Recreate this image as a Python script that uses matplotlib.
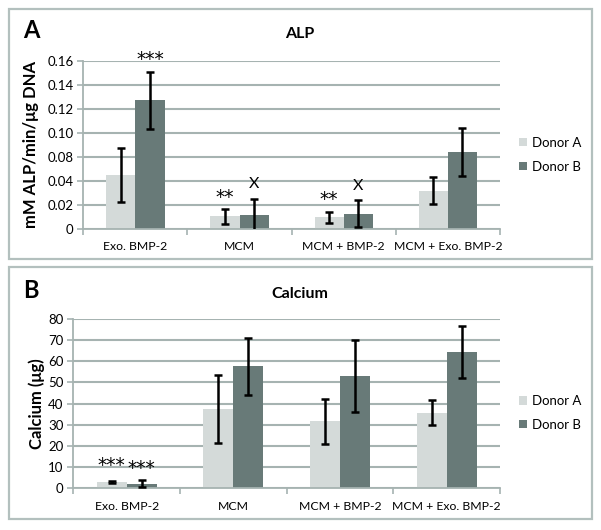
import matplotlib
matplotlib.use("Agg")
import matplotlib.pyplot as plt
from matplotlib.patches import Rectangle
from matplotlib.transforms import offset_copy
import numpy as np

plt.rcParams['font.family'] = ['Lato', 'DejaVu Sans']

# ---------------- data ----------------
categories = ['Exo. BMP-2', 'MCM', 'MCM + BMP-2', 'MCM + Exo. BMP-2']
series_names = ['Donor A', 'Donor B']

# Panel A (ALP) — values read against the evenly spaced gridlines (0.02 per gridline)
alp_tick_labels = ['0', '0.02', '0.04', '0.08', '0.10', '0.12', '0.14', '0.16']
alp_a = [0.0447, 0.0105, 0.0097, 0.0319]
alp_a_err = [0.0226, 0.0060, 0.0046, 0.0112]
alp_b = [0.1071, 0.0117, 0.0128, 0.0644]
alp_b_err = [0.0234, 0.0135, 0.0114, 0.0201]
alp_marks = [(0, 1, '***', 0.1440), (1, 0, '**', 0.0290), (1, 1, 'X', 0.0392),
             (2, 0, '**', 0.0275), (2, 1, 'X', 0.0372)]

# Panel B (Calcium)
calcium_ticks = [0, 10, 20, 30, 40, 50, 60, 70, 80]
calcium_a = [2.9, 37.6, 31.6, 35.8]
calcium_a_err = [0.4, 16.0, 10.5, 6.0]
calcium_b = [2.2, 57.6, 53.2, 64.3]
calcium_b_err = [1.5, 13.6, 17.0, 12.2]
calcium_marks = [(0, 0, '***', 12.6), (0, 1, '***', 11.0)]

# ---------------- style ----------------
COL_A = '#d4dad9'
COL_B = '#687a78'
GRID = '#a6b3b1'
BORDER = '#b3c0be'
W, H = 601, 530

fig = plt.figure(figsize=(W / 100, H / 100), dpi=100)


def fig_rect(x0, y0, x1, y1):
    return [x0 / W, (H - y1) / H, (x1 - x0) / W, (y1 - y0) / H]


# panel frames
for (x0, y0, x1, y1) in [(9, 9, 592, 259), (9, 267, 592, 519)]:
    fig.patches.append(Rectangle((x0 / W, (H - y1) / H), (x1 - x0) / W, (y1 - y0) / H,
                                 transform=fig.transFigure, fill=False,
                                 edgecolor=BORDER, linewidth=1.6))

bw = 0.28
off = 0.14
x = np.arange(len(categories))


def draw_panel(ax, a, aerr, b, berr, ylim, ticks, ticklabels, ylabel, marks, ylabel_x):
    ax.set_axisbelow(True)
    ba = ax.bar(x - off, a, bw, color=COL_A, zorder=2, label=series_names[0])
    bb = ax.bar(x + off, b, bw, color=COL_B, zorder=2, label=series_names[1])
    ax.errorbar(x - off, a, yerr=aerr, fmt='none', ecolor='black', elinewidth=1.8,
                capsize=3, capthick=1.8, zorder=3)
    ax.errorbar(x + off, b, yerr=berr, fmt='none', ecolor='black', elinewidth=1.8,
                capsize=3, capthick=1.8, zorder=3)
    ax.set_xlim(-0.5, len(categories) - 0.5)
    ax.set_ylim(*ylim)
    ax.set_yticks(ticks)
    ax.set_yticklabels(ticklabels, fontsize=9.5)
    ax.yaxis.grid(True, color=GRID, linewidth=1.5)
    ax.set_xticks(x)
    ax.set_xticklabels(categories, fontsize=8.8)
    ax.tick_params(axis='x', length=0, pad=9)
    ax.set_xticks(np.arange(-0.5, len(categories), 1.0), minor=True)
    ax.tick_params(axis='x', which='minor', length=4, color=GRID, width=1.2)
    ax.tick_params(axis='y', length=4, color=GRID, width=1.2, pad=3)
    for s in ['top', 'right']:
        ax.spines[s].set_visible(False)
    for s in ['left', 'bottom']:
        ax.spines[s].set_color(GRID)
        ax.spines[s].set_linewidth(1.3)
    ax.set_ylabel(ylabel, fontsize=12, fontweight='bold', va='center')
    ax.yaxis.set_label_coords(ylabel_x, 0.5)
    for ci, si, txt, yv in marks:
        xx = ci - off if si == 0 else ci + off
        if '*' in txt:
            fs = 13.5
            fam = ['DejaVu Sans']
            dy = -0.48 * fs
        else:
            fs = 11.5
            fam = ['Lato', 'DejaVu Sans']
            dy = -0.36 * fs
        tr = offset_copy(ax.transData, fig=fig, y=dy, units='points')
        ax.text(xx, yv, txt, ha='center', va='baseline', fontsize=fs, family=fam,
                transform=tr, clip_on=False, zorder=4)
    return ba, bb


axA = fig.add_axes(fig_rect(83.3, 61, 500, 229))
draw_panel(axA, alp_a, alp_a_err, alp_b, alp_b_err, (0, 0.14),
           np.arange(0, 0.141, 0.02), alp_tick_labels,
           'mM ALP/min/\u03bcg DNA', alp_marks, -0.125)

axB = fig.add_axes(fig_rect(73.3, 319, 500, 488.3))
draw_panel(axB, calcium_a, calcium_a_err, calcium_b, calcium_b_err, (0, 80),
           calcium_ticks, [str(t) for t in calcium_ticks],
           'Calcium (\u03bcg)', calcium_marks, -0.085)

for ax, yc in [(axA, 154.7), (axB, 413)]:
    ax.legend(loc='center left', bbox_to_anchor=(519 / W, (H - yc) / H),
              bbox_transform=fig.transFigure, frameon=False, fontsize=9.5,
              handlelength=0.6, handleheight=0.6, handletextpad=0.4,
              labelspacing=0.9, borderpad=0, borderaxespad=0)

# panel letters and titles
fig.text(23 / W, (H - 31) / H, 'A', fontsize=17, fontweight='bold', ha='left', va='center')
fig.text(23 / W, (H - 290) / H, 'B', fontsize=17, fontweight='bold', ha='left', va='center')
fig.text(300 / W, (H - 34) / H, 'ALP', fontsize=11.5, fontweight='bold', ha='center', va='center')
fig.text(300 / W, (H - 294) / H, 'Calcium', fontsize=11.5, fontweight='bold', ha='center', va='center')

fig.savefig('out.png', dpi=100)
